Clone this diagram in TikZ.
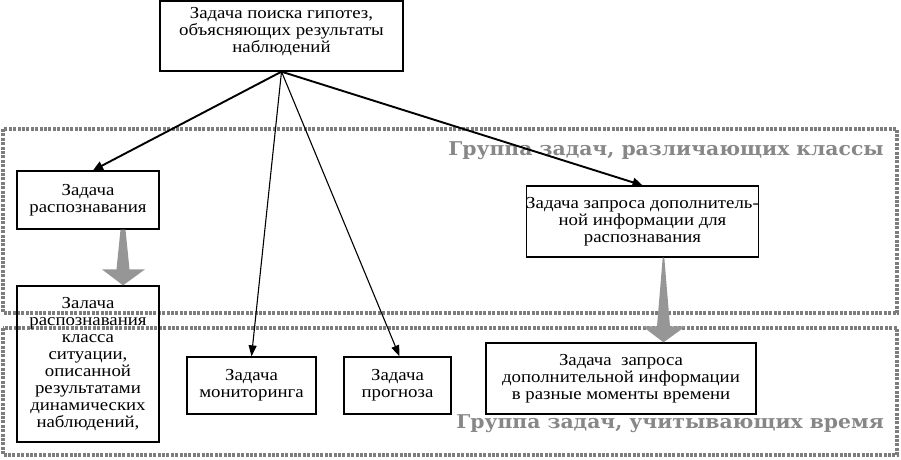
\documentclass[tikz,border=0pt]{standalone}
\usepackage{fontspec}
\setmainfont{Liberation Serif}[FakeStretch=1.12]
\newfontfamily\grpfont{DejaVu Serif}[FakeStretch=1.07]
\usetikzlibrary{arrows.meta,calc}
\definecolor{grp}{RGB}{125,125,125}
\definecolor{grptext}{RGB}{135,135,135}
\definecolor{garrow}{RGB}{150,150,150}
\begin{document}
\begin{tikzpicture}[x=1pt,y=-1pt,
  box/.style={draw, line width=1.3pt, align=center, inner sep=0pt,
    font=\fontsize{16.8}{17}\selectfont},
  grouprect/.style={draw=grp, line width=3.4pt, dash pattern=on 3pt off 1.4pt},
  grouptitle/.style={text=grptext, inner sep=0pt, font=\grpfont\bfseries\fontsize{19}{22}\selectfont},
  thickarr/.style={line width=1.9pt, -{Triangle[length=10pt,width=9pt]}},
  thinarr/.style={line width=1.1pt, -{Triangle[length=11pt,width=8pt]}},
  grayarrow/.style={fill=garrow, draw=none}]
\useasboundingbox (0,0) rectangle (901,459);
% groups
\draw[grouprect] (3,129) rectangle (897,313);
\draw[grouprect] (3,328) rectangle (897,455);
\node[grouptitle, anchor=base east] (t1) at (884,155) {Группа задач, различающих классы};
\node[grouptitle, anchor=base east] (t2) at (884,428) {Группа задач, учитывающих время};
% boxes
\node[box, minimum width=243pt, minimum height=70pt] (top) at (281.5,36)
  {Задача поиска гипотез,\\объясняющих результаты\\наблюдений\\[-5pt]};
\node[box, minimum width=142pt, minimum height=58pt] (rec) at (88,200)
  {Задача\\распознавания};
\node[box, minimum width=142pt, minimum height=156pt] (rec2) at (88,364)
  {Залача\\распознавания\\класса\\ситуации,\\описанной\\результатами\\динамических\\наблюдений,};
\node[box, minimum width=129pt, minimum height=57pt] (mon) at (251.5,385.5)
  {Задача\\мониторинга};
\node[box, minimum width=107pt, minimum height=57pt] (prog) at (397.5,385.5)
  {Задача\\прогноза};
\node[box, minimum width=229pt, minimum height=71pt] (q1) at (642.5,221.5)
  {Задача запроса дополнитель-\\ной информации для\\распознавания};
\node[box, minimum width=270pt, minimum height=71pt] (q2) at (621,378.5)
  {Задача\ \ запроса\\дополнительной информации\\в разные моменты времени};
% connectors
\draw[thickarr] (top.south) -- ($(rec.north)+(5,0)$);
\draw[thinarr] (top.south) -- (mon.north);
\draw[thinarr] (top.south) -- ($(prog.north)+(2,0)$);
\draw[thickarr] (top.south) -- (q1.north);
% gray arrows
\path ($(rec.south)+(35,0)$) coordinate (g1s);
\path (g1s |- rec2.north) coordinate (g1e);
\fill[grayarrow] ($(g1s)+(-2.5,0)$) -- ($(g1s)+(2.5,0)$) -- ($(g1e)+(6.5,-16)$)
  -- ($(g1e)+(22,-16)$) -- (g1e) -- ($(g1e)+(-21,-16)$) -- ($(g1e)+(-6.5,-16)$) -- cycle;
\path ($(q1.south)+(21,0)$) coordinate (g2s);
\path (g2s |- q2.north) coordinate (g2e);
\fill[grayarrow] ($(g2s)+(-0.8,0)$) -- ($(g2s)+(0.8,0)$) -- ($(g2e)+(6.5,-16)$)
  -- ($(g2e)+(22,-16)$) -- (g2e) -- ($(g2e)+(-21,-16)$) -- ($(g2e)+(-6.5,-16)$) -- cycle;
\end{tikzpicture}
\end{document}
